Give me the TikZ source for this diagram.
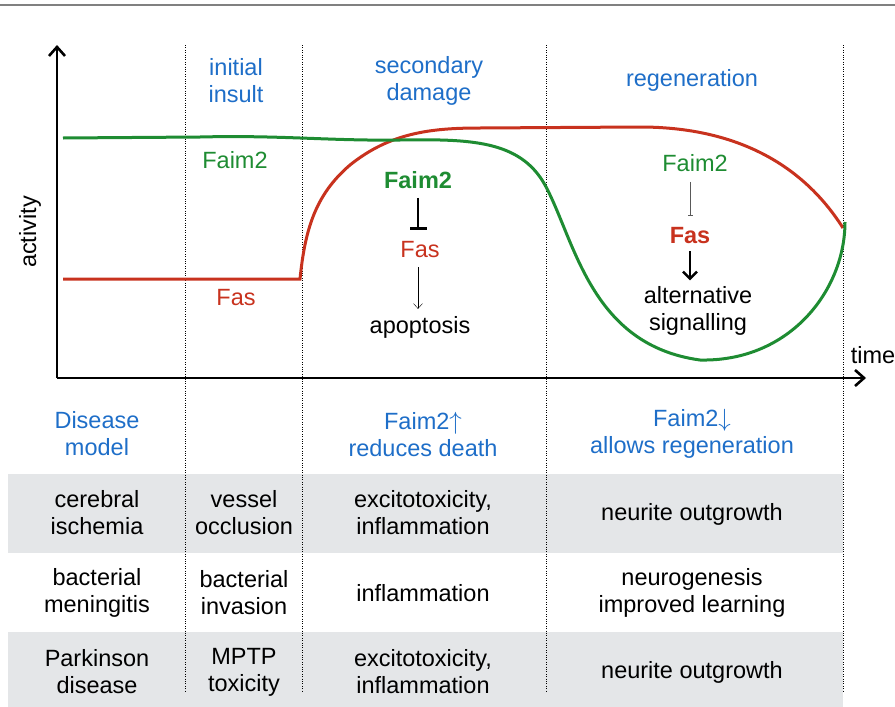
\documentclass[tikz,border=0pt]{standalone}
\usepackage{fontspec}
\setmainfont{Liberation Sans}
\usetikzlibrary{positioning,arrows.meta}
\definecolor{headblue}{RGB}{30,110,200}
\definecolor{faimgreen}{RGB}{30,140,50}
\definecolor{fasred}{RGB}{200,50,30}
\definecolor{rowgray}{RGB}{228,230,232}

\begin{document}
\begin{tikzpicture}[x=1pt,y=-1pt,
txt/.style={align=center, font=\fontsize{23.5}{27}\selectfont, inner sep=0pt},
head/.style={txt, text=headblue},
sep/.style={dotted, thin},
axis/.style={line width=2.6pt, -{Straight Barb[length=9pt,width=16pt,line width=2.6pt]}},
curve/.style={line width=3pt}
]
\useasboundingbox (0,0) rectangle (895,707);
%Background
\draw[gray, line width=1.5pt] (0,5) -- (895,5);
\fill[rowgray] (8,474) rectangle (843,553);
\fill[rowgray] (8,632) rectangle (843,707);
\foreach \xs in {185,302,546,843}
  \draw[sep] (\xs,45) -- (\xs,692);

%Curves
\draw[curve, fasred] (63,279) -- (300,279)
  .. controls (305,230) and (315,195) .. (350,165)
  .. controls (390,133) and (430,128) .. (480,128) -- (640,127)
  .. controls (730,127) and (800,160) .. (843,228);
\draw[curve, faimgreen] (63,138) -- (200,137)
  .. controls (280,135) and (330,141) .. (400,140)
  .. controls (470,139) and (520,140) .. (545,185)
  .. controls (575,240) and (590,345) .. (700,360)
  .. controls (790,362) and (845,290) .. (845,222);

%Axes
\coordinate (O) at (57,378);
\coordinate (ytop) at (57,45);
\coordinate (xend) at (866,378);
\draw[axis] (O) -- (ytop);
\draw[axis] (O) -- (xend);
\node[txt, rotate=90] (act) at (30,232) {activity};
\node[txt] (time) at (873,355) {time};

%Headings
\node[head] (insult) at (236,81) {initial\\insult};
\node[head] (second) at (429,81) {secondary\\damage};
\node[head] (regen) at (692,80) {regeneration};

%Curve labels
\node[txt, text=faimgreen] (faimL) at (235,160) {Faim2};
\node[txt, text=fasred] (fasL) at (236,298) {Fas};

%Secondary damage
\node[txt, text=faimgreen, font=\fontsize{23.5}{27}\selectfont\bfseries] (faimA) at (418,180) {Faim2};
\node[txt, text=fasred] (fasA) at (420,250) {Fas};
\node[txt] (apopt) at (420,327) {apoptosis};
\draw[line width=2.8pt, -{Bar[width=17pt,line width=2.8pt]}, shorten <=9pt, shorten >=12pt] (faimA.south) -- (faimA.south |- fasA.north);
\draw[thin, -{Straight Barb[length=5pt,width=9pt]}, shorten <=9pt, shorten >=7pt] (fasA.south -| faimA.south) -- (faimA.south |- apopt.north);

%Regeneration
\node[txt, text=faimgreen] (faimB) at (695,163) {Faim2};
\node[txt, text=fasred, font=\fontsize{23.5}{27}\selectfont\bfseries] (fasB) at (690,236) {Fas};
\node[txt] (altsig) at (698,311) {alternative\\signalling};
\draw[gray!70!black, thin, -{Bar[width=5pt]}, shorten <=10pt, shorten >=12pt] (faimB.south -| fasB.north) -- (fasB.north);
\draw[line width=2.5pt, -{Straight Barb[length=7pt,width=14pt,line width=2.5pt]}, shorten <=7pt, shorten >=6pt] (fasB.south) -- (fasB.south |- altsig.north);

%Table
\node[head] (model) at (97,434) {Disease\\model};
\node[head] (reduce) at (423,434) {Faim2$\uparrow$\\reduces death};
\node[head] (allow) at (692,434) {Faim2$\downarrow$\\allows regeneration};

\node[txt] (isch) at (97,513) {cerebral\\ischemia};
\node[txt] (occl) at (244,513) {vessel\\occlusion};
\node[txt] (exA) at (423,513) {excitotoxicity,\\inflammation};
\node[txt] (neuA) at (692,514) {neurite outgrowth};

\node[txt] (menin) at (97,593) {bacterial\\meningitis};
\node[txt] (invas) at (244,593) {bacterial\\invasion};
\node[txt] (infl) at (423,593) {inflammation};
\node[txt] (neuro) at (692,593) {neurogenesis\\improved learning};

\node[txt] (park) at (97,672) {Parkinson\\disease};
\node[txt] (mptp) at (244,672) {MPTP\\toxicity};
\node[txt] (exB) at (423,672) {excitotoxicity,\\inflammation};
\node[txt] (neuB) at (692,672) {neurite outgrowth};
\end{tikzpicture}
\end{document}
